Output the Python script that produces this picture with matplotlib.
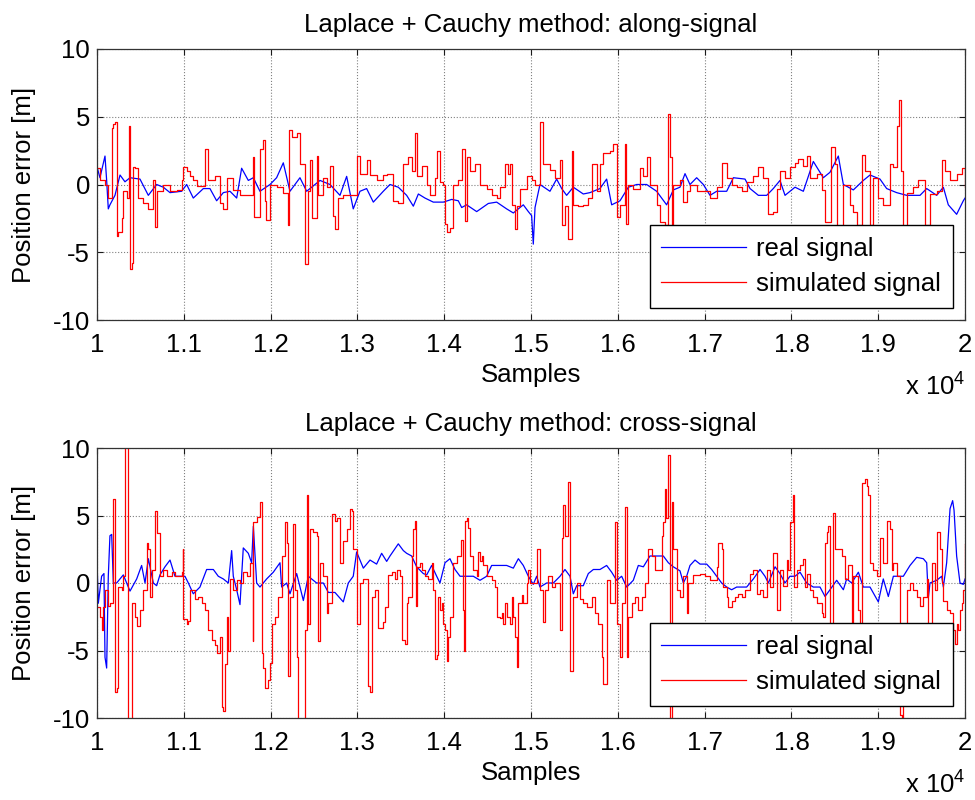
import numpy as np
import matplotlib
matplotlib.use('Agg')
import matplotlib.pyplot as plt

plt.rcParams['font.family'] = ['Liberation Sans', 'DejaVu Sans']
plt.rcParams['mathtext.fontset'] = 'custom'
plt.rcParams['mathtext.rm'] = 'Liberation Sans'
plt.rcParams['axes.unicode_minus'] = False

# ---- data: (sample index, position error in m) ----
along_real = [
    (10000, 1.3), (10034, 0.5), (10092, 2.1), (10111, 0.3), (10130, -1.8), (10149, -1.5),
    (10207, -0.8), (10265, 0.7), (10322, 0.2), (10380, 0.5), (10495, 0.4), (10591, -0.8),
    (10687, 0.0), (10764, -0.2), (10841, -0.6), (10975, -0.5), (11033, 0.0), (11109, -1.0),
    (11225, -0.3), (11301, -0.3), (11378, -1.2), (11455, -0.6), (11532, -0.5), (11609, -1.0),
    (11666, 1.2), (11743, 0.3), (11801, 0.5), (11877, -0.5), (11993, 0.0), (12069, 0.5),
    (12146, 1.6), (12223, -0.5), (12338, 0.5), (12415, -0.5), (12569, 0.3), (12684, 0.0),
    (12799, -0.8), (12876, 0.6), (12952, -1.8), (13029, -0.5), (13106, -0.3), (13183, -1.3),
    (13298, -0.5), (13375, 0.0), (13471, -0.2), (13567, -0.8), (13644, -1.6), (13702, -0.7),
    (13778, -1.0), (13874, -1.3), (13990, -1.3), (14086, -1.1), (14162, -1.2), (14201, -1.7),
    (14258, -1.5), (14374, -2.0), (14508, -1.4), (14604, -1.3), (14719, -1.8), (14796, -2.1),
    (14911, -1.5), (14969, -2.0), (15007, -2.3), (15026, -4.4), (15046, -1.7), (15103, 0.0),
    (15218, -0.5), (15295, 0.4), (15353, -0.3), (15410, -0.8), (15487, -0.2), (15602, -0.7),
    (15679, -0.6), (15794, -0.3), (15871, 0.4), (15929, -1.5), (16025, -1.2), (16121, -0.2),
    (16217, 0.0), (16332, 0.0), (16447, -0.5), (16562, -1.5), (16639, -0.4), (16716, -0.2),
    (16774, 0.8), (16831, 0.0), (16908, 0.5), (16985, 0.0), (17062, -0.8), (17139, -0.5),
    (17254, -0.5), (17331, 0.5), (17465, 0.4), (17523, -0.3), (17619, -0.8), (17715, -0.8),
    (17791, -0.3), (17868, 0.3), (17926, -0.8), (18041, -0.2), (18137, -0.5), (18252, 1.7),
    (18367, 0.5), (18444, 0.9), (18540, 2.1), (18598, 0.0), (18713, -0.4), (18828, 0.3),
    (18905, 0.7), (19020, 0.4), (19097, -0.3), (19212, -0.6), (19327, -0.8), (19481, -0.8),
    (19558, -0.3), (19673, -0.8), (19750, -0.2), (19807, -1.5), (19903, -2.2), (19980, -1.2),
    (20000, -1.0),
]

along_sim = [
    (10000, 1.2), (10034, 0.3), (10092, 0.0), (10130, -1.0), (10169, 4.2), (10188, 4.5),
    (10207, 4.6), (10226, -3.8), (10245, -3.5), (10284, -2.5), (10303, -0.5), (10341, -1.0),
    (10372, 4.3), (10380, -6.2), (10399, -5.8), (10418, 1.3), (10437, 1.2), (10476, -1.0),
    (10533, -1.4), (10591, -1.8), (10649, 0.3), (10668, -3.1), (10687, -0.5), (10764, 0.0),
    (10841, -0.5), (10917, -0.4), (10975, 0.3), (10986, 1.3), (11033, 1.0), (11071, 0.6),
    (11109, 0.3), (11148, -0.1), (11244, 2.6), (11282, 0.3), (11359, 0.6), (11417, -1.4),
    (11455, -1.8), (11493, 0.5), (11570, -0.4), (11647, -0.8), (11724, -0.8), (11801, 2.0),
    (11808, -2.4), (11877, 2.6), (11908, 3.3), (11935, -1.2), (11947, -2.6), (11993, 0.0),
    (12069, -0.2), (12146, -0.6), (12204, -3.0), (12215, 4.0), (12242, 3.5), (12300, 3.8),
    (12338, 1.5), (12396, -5.9), (12415, -5.9), (12434, -0.5), (12453, 1.8), (12473, -2.5),
    (12530, 2.1), (12549, -0.8), (12607, 0.5), (12645, -0.2), (12684, 1.4), (12722, -2.3),
    (12741, -3.3), (12780, -1.0), (12837, -0.8), (12914, -0.8), (12991, 2.1), (13029, 0.8),
    (13106, 1.8), (13145, 0.7), (13221, 0.3), (13298, 0.7), (13337, 0.8), (13414, -1.2),
    (13471, -1.4), (13529, 1.5), (13586, 2.0), (13625, 1.0), (13663, 3.8), (13682, 0.6),
    (13740, 1.4), (13798, 0.0), (13836, -0.8), (13894, 0.5), (13920, 2.5), (13951, 0.2),
    (13990, 0.0), (14009, -2.9), (14028, -3.5), (14066, -3.2), (14105, 0.0), (14162, 0.3),
    (14201, 2.6), (14239, -2.7), (14258, 2.0), (14297, 1.0), (14354, 1.5), (14412, 0.0),
    (14489, -0.3), (14546, -0.8), (14604, -1.0), (14642, -0.2), (14700, 1.5), (14738, 0.8),
    (14758, 1.5), (14777, -1.5), (14815, -3.3), (14834, -1.6), (14873, -0.3), (14950, 0.6),
    (15007, 0.3), (15046, 0.0), (15103, 4.6), (15142, 1.5), (15218, 1.1), (15276, 0.5),
    (15334, 1.8), (15353, -3.0), (15391, -1.6), (15430, -4.0), (15468, 2.5), (15487, -1.5),
    (15545, -1.6), (15602, -1.5), (15660, -1.0), (15698, 1.5), (15756, -0.5), (15794, 1.5),
    (15833, 2.3), (15910, 2.5), (15948, 3.0), (15986, -2.4), (16025, -1.5), (16082, 3.0),
    (16094, -2.9), (16121, 0.0), (16178, -0.3), (16255, 1.2), (16294, 0.6), (16332, 2.0),
    (16370, 0.0), (16447, -1.5), (16486, -2.8), (16543, -3.0), (16582, 5.2), (16601, 2.0),
    (16620, -3.0), (16639, 0.0), (16716, 0.3), (16755, -1.3), (16793, -0.5), (16831, 0.0),
    (16908, -0.5), (16985, -0.5), (17062, -1.0), (17139, -0.2), (17196, 1.6), (17254, 0.5),
    (17311, 0.0), (17369, -0.2), (17427, -0.5), (17484, 0.2), (17561, 0.6), (17619, 1.3),
    (17676, 0.5), (17734, -2.2), (17791, -2.0), (17830, -0.3), (17868, 1.0), (17926, 0.5),
    (17983, 1.3), (18041, 1.6), (18079, 1.9), (18137, 1.4), (18175, 2.1), (18214, 0.5),
    (18291, 0.8), (18348, -0.4), (18387, -2.8), (18452, 2.8), (18502, 1.5), (18521, -3.5),
    (18598, 0.0), (18675, -1.5), (18713, -2.0), (18751, -3.0), (18809, 2.2), (18847, 1.0),
    (18905, -3.0), (18943, 0.5), (19001, -1.0), (19058, -1.5), (19135, 1.5), (19174, 1.3),
    (19212, 4.3), (19239, 6.2), (19258, 1.0), (19289, -3.5), (19327, -0.6), (19404, -0.2),
    (19462, 0.3), (19539, -3.0), (19596, -0.7), (19673, -0.5), (19731, 1.8), (19769, 1.0),
    (19827, 0.3), (19904, 0.8), (19961, 1.2), (20000, -0.2),
]

cross_real = [
    (10000, 1.6), (10015, -1.5), (10053, 0.5), (10080, 0.7), (10092, -5.5), (10111, -6.3),
    (10130, 0.5), (10149, 3.5), (10169, 3.6), (10188, 0.0), (10226, 0.0), (10265, 0.3),
    (10303, 0.6), (10341, 0.0), (10380, -0.6), (10457, 0.3), (10514, 1.3), (10553, 0.0),
    (10591, 1.8), (10649, 0.0), (10687, -0.2), (10725, 0.6), (10783, 1.2), (10841, 1.7),
    (10898, 0.5), (10956, 0.5), (11013, 0.5), (11052, 0.0), (11109, -0.8), (11186, -0.3),
    (11263, 1.0), (11340, 1.0), (11397, 0.5), (11455, 0.3), (11513, 0.0), (11551, 2.4),
    (11570, 0.5), (11609, -0.5), (11647, -1.6), (11685, 2.6), (11743, 2.2), (11781, 1.5),
    (11801, 4.2), (11839, 0.0), (11877, -0.3), (11954, 0.3), (12031, 0.8), (12108, 1.5),
    (12127, -0.3), (12185, 0.0), (12223, -0.8), (12300, 0.7), (12377, -1.3), (12434, 0.5),
    (12530, 0.0), (12607, 0.0), (12665, -0.7), (12741, -0.7), (12837, -1.4), (12895, 0.0),
    (12952, 0.5), (12991, 2.3), (13068, 1.1), (13145, 1.7), (13221, 1.4), (13279, 2.2),
    (13337, 1.6), (13375, 2.0), (13471, 2.9), (13529, 2.4), (13567, 2.2), (13625, 2.0),
    (13682, 1.2), (13759, 0.7), (13798, 0.6), (13855, 1.3), (13913, 0.5), (13951, 0.0),
    (14009, 1.5), (14066, 1.8), (14124, 1.0), (14182, 0.5), (14258, 0.5), (14335, 0.5),
    (14412, 0.2), (14489, 0.5), (14546, 1.3), (14642, 1.3), (14719, 1.3), (14796, 1.1),
    (14854, 1.8), (14911, 1.3), (14969, 0.5), (15026, -0.1), (15065, 0.5), (15103, -0.3),
    (15180, 0.0), (15257, 0.0), (15334, 0.5), (15391, 1.0), (15449, 0.5), (15487, -0.8),
    (15526, -0.2), (15602, -0.2), (15660, 0.7), (15718, 1.0), (15794, 1.0), (15871, 1.3),
    (15929, 0.8), (15986, 0.2), (16044, 0.5), (16102, -0.3), (16178, 0.2), (16236, 1.3),
    (16294, 1.2), (16370, 2.0), (16447, 2.0), (16524, 2.0), (16582, 1.5), (16639, 1.2),
    (16716, 0.9), (16755, 0.0), (16793, 0.5), (16831, 1.3), (16889, 1.7), (16947, 1.4),
    (17023, 1.4), (17081, 1.0), (17139, 0.5), (17196, 0.0), (17254, -0.3), (17311, -0.5),
    (17369, -0.3), (17484, -0.3), (17561, 0.3), (17638, 1.0), (17695, 0.5), (17734, 0.0),
    (17811, 1.2), (17868, 0.7), (17926, 0.0), (17983, 0.5), (18041, 0.5), (18099, 0.8),
    (18175, 0.0), (18252, -0.3), (18329, -0.3), (18387, -1.0), (18444, -0.5), (18521, 0.2),
    (18598, -0.5), (18636, 0.3), (18694, 0.0), (18771, 0.8), (18828, -0.3), (18905, -0.3),
    (19001, -1.4), (19058, 0.3), (19116, -1.0), (19174, 0.5), (19231, 0.5), (19289, 0.5),
    (19366, 1.3), (19443, 1.9), (19519, 1.8), (19558, 1.5), (19577, -1.1), (19596, 0.0),
    (19673, 0.2), (19731, 0.5), (19750, -0.3), (19788, 1.5), (19827, 5.5), (19857, 6.1),
    (19873, 5.4), (19903, 2.0), (19942, 0.0), (19980, -0.1), (20000, 0.3),
]

cross_sim = [
    (10000, -1.8), (10034, -2.5), (10053, -3.5), (10073, -1.8), (10092, -0.5), (10130, -1.7),
    (10149, -1.5), (10180, 5.5), (10188, 6.2), (10207, -8.1), (10226, -7.8), (10245, -0.3),
    (10284, -0.5), (10303, 0.5), (10322, 12.0), (10341, 12.0), (10361, -12.0), (10380, -12.0),
    (10399, -1.5), (10437, -2.5), (10457, -3.2), (10495, -2.0), (10533, -0.5), (10572, 3.0),
    (10591, 2.5), (10610, -1.0), (10629, 1.0), (10668, 5.3), (10687, 3.7), (10725, 0.5),
    (10764, 1.0), (10802, 0.5), (10860, 0.8), (10898, 0.5), (10937, 0.5), (10975, 0.8),
    (10986, 2.5), (10994, -2.7), (11033, -3.0), (11052, -2.8), (11071, -0.5), (11129, -1.2),
    (11167, -1.0), (11205, -1.5), (11244, -2.0), (11282, -3.5), (11321, -4.2), (11359, -4.6),
    (11378, -5.2), (11417, -4.0), (11436, -9.2), (11455, -9.5), (11474, -6.0), (11493, -2.5),
    (11513, -5.0), (11532, 0.3), (11570, -0.5), (11609, 0.2), (11647, 0.0), (11685, 0.8),
    (11724, 0.5), (11762, 1.5), (11793, -4.3), (11801, 4.5), (11839, 4.9), (11877, 6.0),
    (11897, -5.2), (11916, -6.3), (11935, -7.8), (11973, -7.2), (11993, -5.9), (12012, -3.0),
    (12050, -2.5), (12089, -1.0), (12127, 2.0), (12165, 4.5), (12185, 3.0), (12204, -6.9),
    (12223, -1.0), (12261, 4.4), (12281, -0.5), (12300, -5.5), (12319, -12.0), (12377, -12.0),
    (12396, -3.5), (12415, 6.5), (12434, -3.0), (12453, 4.0), (12492, 3.8), (12530, 3.5),
    (12549, -4.3), (12569, 1.5), (12607, 0.5), (12645, -2.2), (12665, -1.5), (12703, 5.1),
    (12741, 4.6), (12761, 4.8), (12799, 1.5), (12837, 3.1), (12876, 4.0), (12914, 5.5),
    (12933, 5.3), (12952, 2.5), (12991, 0.3), (12999, -3.0), (13029, 0.0), (13068, 0.3),
    (13125, -7.6), (13145, -8.1), (13164, -1.0), (13202, -0.5), (13241, -3.3), (13298, -2.9),
    (13317, -1.8), (13356, 0.6), (13394, 0.8), (13433, 0.3), (13452, 1.0), (13490, 0.5),
    (13510, -4.2), (13548, -4.5), (13567, -1.5), (13586, -1.0), (13625, 2.0), (13644, 4.0),
    (13663, 4.6), (13675, -1.7), (13682, 1.2), (13721, 1.5), (13740, 1.0), (13778, 0.5),
    (13817, 0.3), (13855, 1.5), (13874, -0.5), (13894, -5.6), (13913, -5.3), (13932, -1.0),
    (13951, -2.0), (13970, -1.5), (13990, -3.0), (14009, -3.5), (14028, -5.8), (14047, -4.0),
    (14066, -2.5), (14105, 1.5), (14143, 2.0), (14189, 3.2), (14212, -2.0), (14228, -5.0),
    (14239, 4.6), (14258, 4.8), (14278, 4.1), (14297, 2.0), (14335, 1.0), (14374, 0.5),
    (14393, 2.3), (14412, 1.6), (14431, 2.0), (14450, 1.3), (14489, 0.5), (14546, 0.2),
    (14585, -0.3), (14604, -2.5), (14642, -2.6), (14662, -2.2), (14681, -3.0), (14700, -1.5),
    (14719, -2.5), (14758, -3.0), (14777, -1.0), (14796, -2.5), (14815, -4.0), (14834, -6.2),
    (14854, -1.5), (14892, -0.9), (14911, -1.5), (14950, 0.0), (14969, 1.0), (14988, 0.0),
    (15026, 0.0), (15065, 2.5), (15103, -0.5), (15134, -2.9), (15161, -0.5), (15199, 0.5),
    (15238, -0.3), (15276, 0.0), (15314, 0.0), (15334, -3.5), (15353, 3.3), (15372, 5.8),
    (15391, 3.5), (15410, 3.5), (15430, 7.5), (15449, -6.5), (15468, -6.5), (15487, -1.0),
    (15526, 0.0), (15564, -1.2), (15602, -1.5), (15641, -1.8), (15698, -1.0), (15737, -2.2),
    (15775, -3.0), (15814, -5.5), (15833, -7.5), (15871, 0.2), (15910, -1.5), (15948, -1.5),
    (15967, 4.5), (15986, -3.0), (16025, -5.5), (16044, -1.5), (16082, 5.6), (16102, -5.5),
    (16121, -2.5), (16159, -1.5), (16198, -1.0), (16236, -2.0), (16274, -1.0), (16313, 0.0),
    (16351, 2.5), (16390, 2.0), (16428, 1.0), (16466, 1.0), (16505, 3.5), (16524, 4.5),
    (16543, 7.0), (16555, 4.8), (16582, 9.5), (16601, -10.5), (16620, 6.0), (16639, 2.5),
    (16678, -0.5), (16716, -1.0), (16755, 0.5), (16793, -2.2), (16812, 0.0), (16870, 0.6),
    (16947, 0.7), (17004, 0.5), (17062, 0.2), (17139, 1.2), (17158, 3.0), (17196, 2.5),
    (17215, -0.3), (17254, -1.0), (17273, -1.8), (17311, -1.3), (17350, -1.0), (17388, -0.8),
    (17427, -1.0), (17465, -0.5), (17523, 0.7), (17561, 1.0), (17599, -0.8), (17638, -0.5),
    (17676, -1.0), (17715, 1.0), (17753, -0.3), (17791, 2.2), (17830, -2.0), (17868, 1.0),
    (17907, -0.2), (17945, 1.7), (17964, 1.0), (17983, 4.5), (18022, 6.5), (18029, -0.3),
    (18060, 1.0), (18099, 1.3), (18137, 1.8), (18156, -0.3), (18175, 0.7), (18214, -0.5),
    (18252, -1.0), (18291, -1.5), (18348, -2.2), (18367, -2.5), (18387, 3.0), (18406, 3.8),
    (18425, 4.2), (18444, -3.5), (18475, 5.2), (18502, 2.5), (18540, 2.5), (18579, 2.0),
    (18617, 0.3), (18655, 1.3), (18694, -3.0), (18713, 0.5), (18771, -2.0), (18790, -3.0),
    (18809, 7.4), (18847, 7.7), (18867, 7.2), (18886, 6.5), (18905, 1.5), (18943, 1.0),
    (18982, 0.5), (19020, 3.3), (19058, 1.5), (19097, 4.6), (19135, 4.0), (19155, 1.0),
    (19174, 1.5), (19212, 0.5), (19251, -9.8), (19270, -10.5), (19289, -3.0), (19327, -0.5),
    (19366, 0.0), (19404, -0.5), (19443, -1.0), (19481, -1.7), (19519, -1.0), (19558, 0.3),
    (19577, -3.0), (19615, 1.5), (19654, -0.5), (19673, 3.8), (19711, 2.5), (19731, 0.0),
    (19750, -1.3), (19788, -2.0), (19827, -2.2), (19865, -3.5), (19884, -4.5), (19903, -3.0),
    (19923, -3.5), (19942, -2.0), (19961, -1.5), (19980, -0.5), (20000, 2.9),
]

titles = ['Laplace + Cauchy method: along-signal', 'Laplace + Cauchy method: cross-signal']
x_ticks = [10000, 11000, 12000, 13000, 14000, 15000, 16000, 17000, 18000, 19000, 20000]
x_tick_labels = ['1', '1.1', '1.2', '1.3', '1.4', '1.5', '1.6', '1.7', '1.8', '1.9', '2']
y_ticks = [-10, -5, 0, 5, 10]

FS = 18.5

fig = plt.figure(figsize=(9.75, 8), dpi=100)
ax1 = fig.add_axes([0.0995, 0.6, 0.8903, 0.33875])
ax2 = fig.add_axes([0.0995, 0.1025, 0.8903, 0.3375])

for ax, title, real, sim in [(ax1, titles[0], along_real, along_sim),
                             (ax2, titles[1], cross_real, cross_sim)]:
    rx, ry = zip(*real)
    sx, sy = zip(*sim)
    ax.plot(rx, ry, color='b', lw=0.9, label='real signal')
    ax.plot(sx, sy, color='r', lw=0.9, drawstyle='steps-post', label='simulated signal')

    ax.set_xlim(10000, 20000)
    ax.set_ylim(-10, 10)
    ax.set_xticks(x_ticks)
    ax.set_xticklabels(x_tick_labels)
    ax.set_yticks(y_ticks)
    ax.grid(True, linestyle=':', color='0.5', linewidth=0.8)
    ax.tick_params(direction='in', top=True, right=True, length=4,
                   labelsize=FS, color='0.1')
    ax.tick_params(axis='x', pad=9)
    ax.tick_params(axis='y', pad=5)
    for sp in ax.spines.values():
        sp.set_color('0.2')
        sp.set_linewidth(0.9)

    ax.set_title(title, fontsize=FS, pad=12)
    ax.set_xlabel('Samples', fontsize=FS, labelpad=5)
    ax.set_ylabel('Position error [m]', fontsize=FS, labelpad=12)
    ax.text(1.0, -0.295, r'x 10$^{4}$', transform=ax.transAxes,
            ha='right', va='bottom', fontsize=FS)

    leg = ax.legend(loc='lower right', bbox_to_anchor=(0.986, 0.045),
                    bbox_transform=ax.transAxes, borderaxespad=0,
                    fontsize=FS, fancybox=False, framealpha=1,
                    edgecolor='k', handlelength=3.3, handletextpad=0.4,
                    labelspacing=0.45, borderpad=0.45)
    leg.get_frame().set_linewidth(1.0)

fig.savefig('out.png', dpi=100)
